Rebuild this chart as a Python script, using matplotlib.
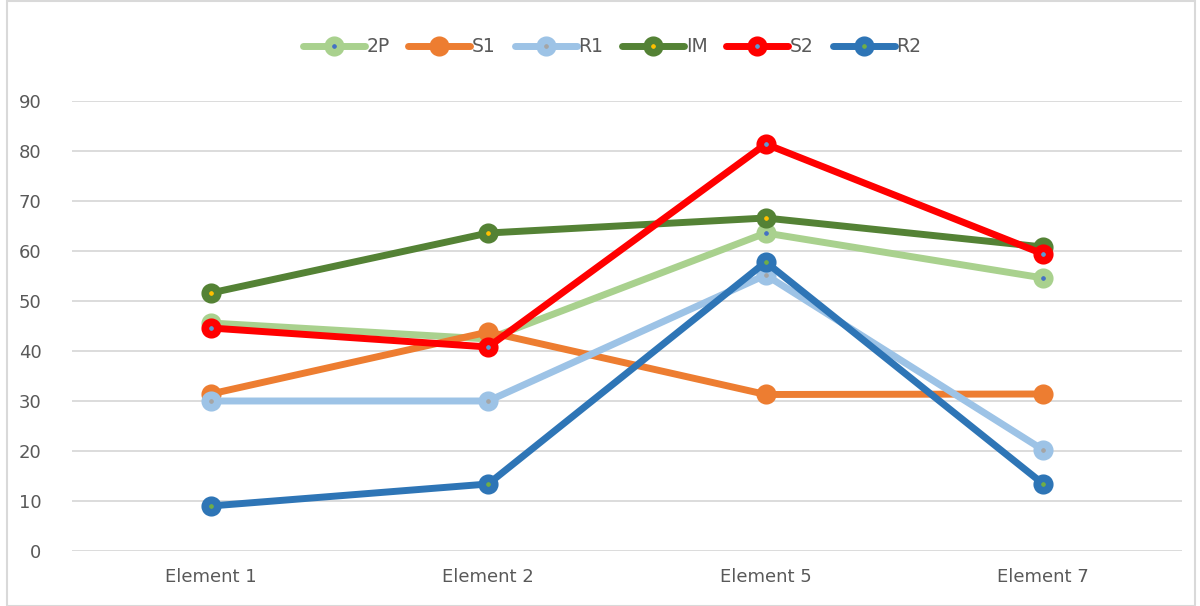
import matplotlib.pyplot as plt
from matplotlib.patches import Rectangle

# данные
categories = ["Element 1", "Element 2", "Element 5", "Element 7"]
names = ["2P", "S1", "R1", "IM", "S2", "R2"]
vals_2p = [45.6, 42.4, 63.6, 54.6]
vals_s1 = [31.4, 43.8, 31.3, 31.4]
vals_r1 = [30.0, 30.0, 55.2, 20.2]
vals_im = [51.6, 63.6, 66.6, 60.8]
vals_s2 = [44.6, 40.8, 81.4, 59.4]
vals_r2 = [9.0, 13.4, 57.8, 13.4]
yticks = list(range(0, 100, 10))

series = [vals_2p, vals_s1, vals_r1, vals_im, vals_s2, vals_r2]
line_colors = ["#A9D18E", "#ED7D31", "#9DC3E6", "#548235", "#FF0000", "#2E75B6"]
dot_colors = ["#4472C4", "#ED7D31", "#A5A5A5", "#FFC000", "#5B9BD5", "#70AD47"]

fig = plt.figure(figsize=(12, 6.06), dpi=100)
ax = fig.add_axes([0.06, 0.0908, 0.925, 0.7425])

x = list(range(len(categories)))
for name, ys, lc, dc in zip(names, series, line_colors, dot_colors):
    ax.plot(x, ys, color=lc, lw=5, marker="o", ms=9, mew=5.5,
            mfc=dc, mec=lc, label=name, solid_capstyle="round")

ax.set_xlim(-0.5, 3.5)
ax.set_ylim(0, 90)
ax.set_yticks(yticks)
ax.set_xticks(x)
ax.set_xticklabels(categories)
ax.tick_params(length=0, labelsize=13, labelcolor="#595959")
ax.tick_params(axis="y", pad=22)
ax.tick_params(axis="x", pad=12)
ax.grid(axis="y", color="#D9D9D9", lw=1.3)
ax.set_axisbelow(True)
for s in ax.spines.values():
    s.set_visible(False)

leg = fig.legend(loc="center", bbox_to_anchor=(0.51, 0.923), ncol=6, frameon=False,
                 fontsize=13.5, handlelength=3.3, columnspacing=1.0, handletextpad=0.1)
for t in leg.get_texts():
    t.set_color("#595959")

fig.patches.append(Rectangle((0.006, 0.0), 0.99, 0.998, transform=fig.transFigure,
                             fill=False, ec="#D9D9D9", lw=1.5))

fig.savefig("out.png", dpi=100)
